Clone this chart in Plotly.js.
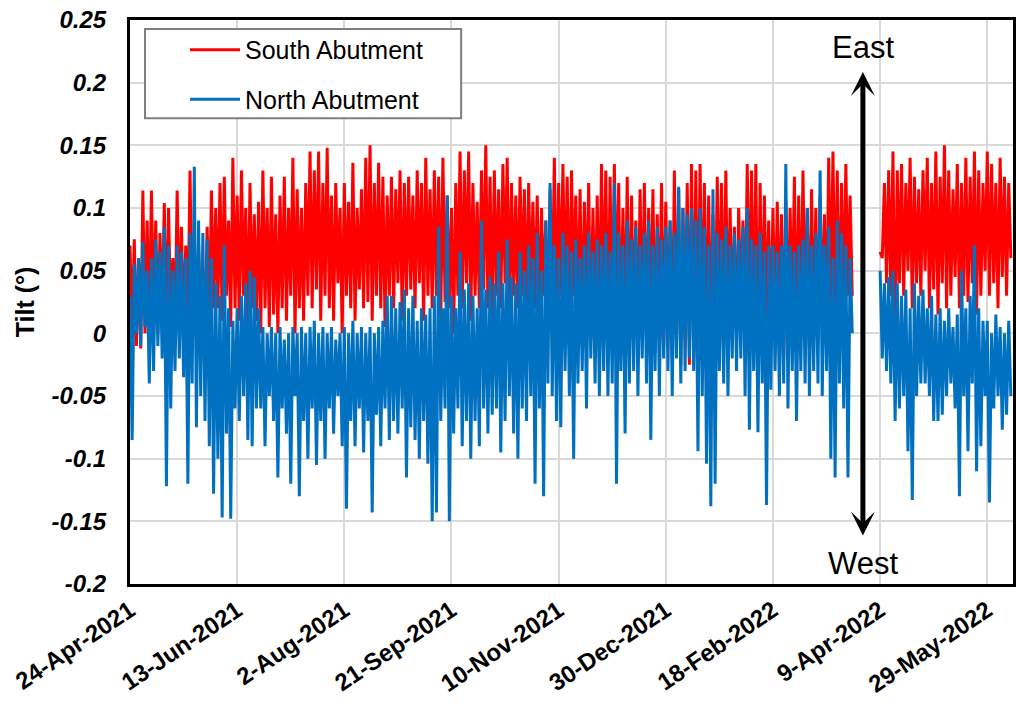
<!DOCTYPE html>
<html><head><meta charset="utf-8">
<script src="https://cdn.plot.ly/plotly-3.0.1.min.js"></script>
<style>html,body{margin:0;padding:0;background:#fff}#chart{width:1016px;height:708px}</style>
</head><body><div id="chart"></div>
<script>
// Daily readings (alternating daily high / low)
const seg1Start = '2021-04-24';
const seg2Start = '2022-04-09';

const southSeg1 = [
0.07,0.0,0.075,-0.01,0.06,-0.012,0.114,0.0,0.09,0.005,
0.114,0.01,0.09,0.0,0.08,0.01,0.104,0.0,0.1,0.01,
0.06,0.005,0.114,0.01,0.085,0.0,0.07,0.01,0.13,0.005,
0.08,0.0,0.07,0.01,0.05,0.0,0.085,0.01,0.114,0.02,
0.1,0.02,0.12,0.01,0.125,0.03,0.09,0.005,0.14,0.02,
0.11,0.01,0.13,0.03,0.1,0.0,0.12,0.02,0.095,0.01,
0.105,0.0,0.13,0.02,0.1,0.005,0.125,0.015,0.095,0.0,
0.11,0.02,0.125,0.01,0.1,0.03,0.14,0.0,0.115,0.02,
0.1,0.01,0.12,0.03,0.145,0.02,0.13,0.035,0.145,0.01,
0.12,0.03,0.148,0.02,0.11,0.01,0.12,0.04,0.1,0.0,
0.12,0.03,0.105,0.02,0.136,0.01,0.1,0.035,0.115,0.02,
0.14,0.025,0.15,0.01,0.12,0.03,0.136,0.02,0.125,0.005,
0.11,0.03,0.125,0.02,0.115,0.04,0.13,0.01,0.12,0.03,
0.125,0.035,0.11,0.02,0.13,0.04,0.12,0.01,0.14,0.03,
0.115,0.02,0.13,0.03,0.125,0.01,0.14,0.025,0.11,0.02,
0.1,0.0,0.12,0.03,0.145,0.02,0.13,0.04,0.145,0.01,
0.12,0.03,0.105,0.02,0.13,0.035,0.15,0.02,0.125,0.01,
0.13,0.03,0.115,0.02,0.135,0.04,0.14,0.01,0.12,0.03,
0.11,0.02,0.125,0.03,0.115,0.01,0.12,0.03,0.105,0.02,
0.11,0.01,0.1,0.03,0.09,0.0,0.115,0.02,0.14,0.01,
0.12,0.03,0.135,0.02,0.125,0.0,0.13,0.03,0.11,0.01,
0.115,0.0,0.105,0.02,0.12,-0.005,0.1,0.01,0.11,0.0,
0.135,0.01,0.13,-0.01,0.125,0.0,0.135,0.02,0.12,-0.005,
0.1,0.0,0.125,-0.015,0.11,0.01,0.09,-0.01,0.115,0.0,
0.12,-0.005,0.1,0.01,0.115,-0.015,0.095,0.0,0.12,-0.01,
0.105,0.0,0.09,-0.02,0.13,-0.01,0.115,-0.025,0.1,-0.005,
0.12,-0.025,0.135,-0.015,0.13,-0.01,0.135,0.0,0.12,-0.01,
0.11,0.0,0.095,-0.01,0.125,0.01,0.12,-0.005,0.13,0.0,
0.1,0.01,0.085,-0.005,0.1,0.02,0.09,0.0,0.135,0.01,
0.13,-0.01,0.135,-0.035,0.12,0.0,0.11,0.01,0.09,-0.005,
0.1,0.0,0.105,0.01,0.095,-0.02,0.105,0.0,0.1,0.01,
0.125,-0.015,0.11,0.0,0.13,0.01,0.1,-0.01,0.115,0.0,
0.1,-0.005,0.11,0.01,0.095,0.0,0.14,0.02,0.145,0.01,
0.13,0.0,0.12,0.02,0.135,0.03,0.11,0.03
];
const southSeg2 = [
0.065,0.06,0.12,0.04,0.13,0.03,0.145,-0.02,0.13,0.04,
0.135,0.03,0.12,0.05,0.14,0.02,0.125,0.04,0.115,0.03,
0.13,0.05,0.14,0.02,0.12,0.035,0.145,0.015,0.125,0.04,
0.15,0.02,0.13,0.03,0.115,0.045,0.135,0.02,0.12,0.03,
0.14,0.025,0.125,0.04,0.145,0.015,0.13,0.03,0.12,0.05,
0.145,0.03,0.135,0.04,0.12,0.02,0.14,0.045,0.125,0.03,
0.12,0.06
];
const northSeg1 = [
0.03,-0.085,0.055,0.0,0.06,-0.01,0.073,0.005,0.05,-0.04,
0.06,-0.03,0.075,-0.01,0.065,-0.02,0.085,-0.122,0.07,-0.06,
0.05,-0.03,0.07,-0.02,0.065,-0.035,0.06,-0.12,0.08,-0.04,
0.133,-0.075,0.09,-0.05,0.08,-0.07,0.075,-0.09,0.06,-0.128,
0.04,-0.1,0.03,-0.147,0.07,-0.08,0.02,-0.148,0.01,-0.06,
0.02,-0.07,0.03,-0.05,0.04,-0.085,0.05,-0.09,0.045,-0.06,
0.02,-0.06,0.005,-0.09,0.0,-0.05,0.005,-0.07,0.0,-0.115,
0.005,-0.06,-0.005,-0.08,0.0,-0.12,0.005,-0.05,0.0,-0.13,
0.005,-0.07,0.0,-0.1,0.005,-0.06,0.01,-0.105,0.0,-0.07,
0.005,-0.1,0.0,-0.06,0.005,-0.08,-0.005,-0.05,0.0,-0.09,
0.005,-0.14,0.0,-0.07,0.01,-0.09,0.0,-0.06,0.005,-0.095,
0.0,-0.07,0.005,-0.143,0.0,-0.065,0.005,-0.09,0.01,-0.06,
0.03,-0.085,0.03,-0.07,0.02,-0.08,0.025,-0.06,0.035,-0.115,
0.02,-0.075,0.03,-0.085,0.01,-0.1,0.02,-0.07,0.015,-0.104,
0.02,-0.15,0.03,-0.143,0.085,-0.07,0.02,-0.06,0.11,-0.15,
0.03,-0.08,0.02,-0.06,0.065,-0.09,0.035,-0.07,0.04,-0.1,
0.03,-0.07,0.02,-0.09,0.09,-0.06,0.035,-0.08,0.045,-0.065,
0.04,-0.06,0.065,-0.095,0.04,-0.07,0.075,-0.05,0.045,-0.08,
0.04,-0.1,0.065,-0.06,0.05,-0.07,0.07,-0.05,0.06,-0.12,
0.08,-0.06,0.05,-0.13,0.09,-0.04,0.12,-0.05,0.07,-0.07,
0.06,-0.075,0.08,-0.03,0.07,-0.05,0.065,-0.1,0.075,-0.04,
0.06,-0.03,0.07,-0.06,0.08,-0.02,0.065,-0.04,0.075,-0.05,
0.07,-0.03,0.08,-0.05,0.065,-0.04,0.12,-0.12,0.08,-0.03,
0.07,-0.08,0.09,-0.04,0.075,-0.03,0.085,-0.05,0.07,-0.02,
0.08,-0.04,0.09,-0.085,0.07,-0.03,0.085,-0.05,0.075,-0.02,
0.085,-0.03,0.09,-0.05,0.08,-0.02,0.117,-0.04,0.1,-0.03,
0.095,-0.02,0.1,-0.03,0.09,-0.094,0.1,-0.05,0.085,-0.104,
0.07,-0.138,0.115,-0.12,0.08,-0.03,0.075,-0.04,0.085,-0.05,
0.07,-0.02,0.08,-0.03,0.075,-0.02,0.085,-0.05,0.1,-0.077,
0.075,-0.03,0.07,-0.079,0.08,-0.04,0.065,-0.137,0.07,-0.045,
0.07,-0.03,0.065,-0.05,0.07,-0.04,0.135,-0.06,0.07,-0.03,
0.065,-0.07,0.07,-0.03,0.075,-0.04,0.1,-0.05,0.07,-0.03,
0.08,-0.04,0.13,-0.05,0.07,-0.03,0.085,-0.1,0.06,-0.115,
0.09,-0.04,0.08,-0.06,0.07,-0.115,0.06,0.0
];
const northSeg2 = [
0.05,-0.02,0.04,-0.03,0.045,-0.04,0.05,-0.07,0.04,-0.06,
0.03,-0.05,0.035,-0.094,0.02,-0.133,0.04,-0.05,0.03,-0.04,
0.035,-0.04,0.02,-0.05,0.03,-0.07,0.015,-0.07,0.02,-0.065,
0.01,-0.05,0.02,-0.04,0.005,-0.06,0.015,-0.13,0.05,-0.05,
0.02,-0.094,0.03,-0.04,0.07,-0.11,0.02,-0.09,0.01,-0.05,
0.01,-0.135,0.0,-0.06,0.015,-0.05,0.005,-0.077,0.0,-0.065,
0.01,-0.05
];

const xTickDates = ['2021-04-24','2021-06-13','2021-08-02','2021-09-21','2021-11-10','2021-12-30','2022-02-18','2022-04-09','2022-05-29'];
const xTickLabels = ['24-Apr-2021','13-Jun-2021','2-Aug-2021','21-Sep-2021','10-Nov-2021','30-Dec-2021','18-Feb-2022','9-Apr-2022','29-May-2022'];
const yTickVals = [-0.2,-0.15,-0.1,-0.05,0,0.05,0.1,0.15,0.2,0.25];
const yTickLabels = ['-0.2','-0.15','-0.1','-0.05','0','0.05','0.1','0.15','0.2','0.25'];
const seriesNames = ['South Abutment','North Abutment'];
const seriesColors = ['#FF0000','#0070C0'];

const DAY = 86400000;
function dates(start, n) {
  const t0 = Date.parse(start + 'T00:00:00Z');
  const out = [];
  for (let i = 0; i < n; i++) out.push(new Date(t0 + i * DAY).toISOString().slice(0, 19).replace('T', ' '));
  return out;
}
function joined(a, aStart, b, bStart) {
  const xa = dates(aStart, a.length), xb = dates(bStart, b.length);
  const gapX = dates(aStart, a.length + 1)[a.length];
  return { x: xa.concat([gapX], xb), y: a.concat([null], b) };
}
const south = joined(southSeg1, seg1Start, southSeg2, seg2Start);
const north = joined(northSeg1, seg1Start, northSeg2, seg2Start);

const FONT = 'Liberation Sans, Arial, sans-serif';
const traces = [
  { type: 'scatter', mode: 'lines', name: seriesNames[0], legendgroup: 'a', x: south.x, y: south.y,
    line: { color: seriesColors[0], width: 3 }, hoverinfo: 'skip' },
  { type: 'scatter', mode: 'lines', name: seriesNames[1], legendgroup: 'b', x: north.x, y: north.y,
    line: { color: seriesColors[1], width: 3 }, hoverinfo: 'skip' }
];

const layout = {
  width: 1016, height: 708,
  margin: { l: 130, r: 3, t: 20, b: 124 },
  paper_bgcolor: '#fff', plot_bgcolor: '#fff',
  font: { family: FONT, color: '#000' },
  showlegend: true,
  legend: {
    x: 0.0623, y: 0.9876, xanchor: 'left', yanchor: 'top',
    bgcolor: 'rgba(0,0,0,0)', borderwidth: 0,
    font: { family: FONT, size: 25, color: '#000' },
    itemwidth: 50, traceorder: 'grouped', tracegroupgap: 14
  },
  xaxis: {
    type: 'date', range: ['2021-04-24', '2022-06-10'],
    tickmode: 'array', tickvals: xTickDates, ticktext: xTickLabels,
    tickangle: -34, tickfont: { family: FONT, size: 24, weight: 'bold', color: '#000' },
    showgrid: true, gridcolor: '#d9d9d9', gridwidth: 2,
    showline: true, linecolor: '#000', linewidth: 3, mirror: true,
    ticks: '', zeroline: false, ticklabelstandoff: 0
  },
  yaxis: {
    range: [-0.2, 0.25],
    tickmode: 'array', tickvals: yTickVals, ticktext: yTickLabels,
    tickfont: { family: FONT, size: 24, weight: 'bold', style: 'italic', color: '#000' },
    showgrid: true, gridcolor: '#d9d9d9', gridwidth: 2,
    showline: true, linecolor: '#000', linewidth: 3, mirror: true,
    ticks: '', zeroline: false, ticklabelstandoff: 16,
    title: { text: 'Tilt (°)', font: { family: FONT, size: 25, weight: 'bold', color: '#000' }, standoff: 10 }
  },
  shapes: [
    { type: 'rect', xref: 'paper', yref: 'paper', x0: 0.017, x1: 0.375, y0: 0.826, y1: 0.984,
      line: { color: '#808080', width: 2 }, fillcolor: '#fff', layer: 'above' }
  ],
  annotations: [
    { xref: 'paper', yref: 'paper', x: 0.830, y: 0.908, ax: 0, ay: 465, axref: 'pixel', ayref: 'pixel',
      text: '', showarrow: true, arrowside: 'end+start', arrowhead: 3, startarrowhead: 3,
      arrowsize: 0.8, startarrowsize: 0.8, arrowwidth: 5, arrowcolor: '#000' },
    { xref: 'paper', yref: 'paper', x: 0.830, y: 0.952, text: 'East', showarrow: false,
      font: { family: FONT, size: 31, color: '#000' }, xanchor: 'center', yanchor: 'middle' },
    { xref: 'paper', yref: 'paper', x: 0.830, y: 0.037, text: 'West', showarrow: false,
      font: { family: FONT, size: 31, color: '#000' }, xanchor: 'center', yanchor: 'middle' }
  ]
};

Plotly.newPlot('chart', traces, layout, { staticPlot: true, displayModeBar: false });
</script>
</body></html>
